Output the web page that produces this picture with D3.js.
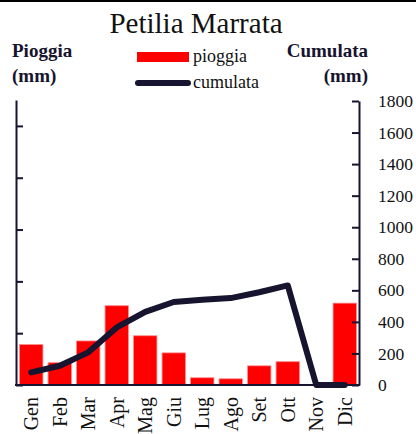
<!DOCTYPE html>
<html>
<head>
<meta charset="utf-8">
<script src="https://cdn.jsdelivr.net/npm/d3@7"></script>
<style>
  body { margin: 0; background: #fff; }
  svg { display: block; }
</style>
</head>
<body>
<div class="chart"></div>
<script>
let w = 416;
let h = 434;

// data
let mesi = ["Gen", "Feb", "Mar", "Apr", "Mag", "Giu", "Lug", "Ago", "Set", "Ott", "Nov", "Dic"];
let pioggia = [78, 43, 85, 153, 95, 62, 14, 12, 37, 45, 0, 158];
let cumulata = [80, 122, 207, 365, 463, 526, 540, 551, 588, 631, 0, 0];
let ticksDx = [0, 200, 400, 600, 800, 1000, 1200, 1400, 1600, 1800];
let ticksSx = [0, 100, 200, 300, 400, 500];

let ink = "#16142e";
let font = "'Liberation Serif', 'DejaVu Serif', serif";

let viz = d3.select(".chart")
  .append("svg")
    .attr("width", w)
    .attr("height", h)
    .style("font-family", font)
;

// top border
viz.append("rect")
  .attr("x", 0).attr("y", 0)
  .attr("width", w).attr("height", 2)
  .attr("fill", "#000");

let x = d3.scaleBand()
  .domain(mesi)
  .range([17, 359])
  .paddingInner(0.18)
  .paddingOuter(0.09);

let yL = d3.scaleLinear().domain([0, 550]).range([385, 100]);
let yR = d3.scaleLinear().domain([0, 1800]).range([385, 101]);

// bars
viz.append("g").attr("class", "bars")
  .selectAll("rect")
  .data(mesi)
  .join("rect")
    .attr("x", d => x(d))
    .attr("width", x.bandwidth())
    .attr("y", (d, i) => yL(pioggia[i]))
    .attr("height", (d, i) => yL(0) - yL(pioggia[i]))
    .attr("fill", "#ff0000")
    .attr("stroke", "#ff8a8a")
    .attr("stroke-width", (d, i) => pioggia[i] > 0 ? 0.8 : 0);

// cumulative line
let lineFunction = d3.line()
  .x((d, i) => x(mesi[i]) + x.bandwidth() / 2)
  .y(d => yR(d));

viz.append("path")
  .attr("d", lineFunction(cumulata))
  .attr("fill", "none")
  .attr("stroke", ink)
  .attr("stroke-width", 6)
  .attr("stroke-linejoin", "round")
  .attr("stroke-linecap", "round");

// left axis (no labels)
let axL = viz.append("g")
  .attr("transform", "translate(16,0)")
  .call(d3.axisLeft(yL).tickValues(ticksSx).tickSize(-7).tickSizeOuter(0).tickFormat(""));

// right axis
let axR = viz.append("g")
  .attr("transform", "translate(359,0)")
  .call(d3.axisRight(yR).tickValues(ticksDx).tickSize(-7).tickSizeOuter(0)
    .tickPadding(19).tickFormat(d3.format("d")));

// bottom axis
let axB = viz.append("g")
  .attr("transform", "translate(0,385)")
  .call(d3.axisBottom(x).tickSize(0).tickPadding(0));

axB.select(".domain").attr("d", "M15,0H360");
axB.selectAll("text")
  .attr("transform", "rotate(-90)")
  .attr("text-anchor", "end")
  .attr("x", -12)
  .attr("y", 0)
  .attr("dy", "0.35em")
  .attr("font-size", 20)
  .attr("font-family", font)
  .attr("fill", "#111");

[axL, axR, axB].forEach(a => {
  a.select(".domain").attr("stroke", ink).attr("stroke-width", 2);
  a.selectAll(".tick line").attr("stroke", ink).attr("stroke-width", 2);
});
axR.selectAll("text")
  .attr("text-anchor", "start")
  .attr("font-size", 17.5)
  .attr("font-family", font)
  .attr("fill", "#111");

// title
viz.append("text")
  .attr("x", 196)
  .attr("y", 33)
  .attr("text-anchor", "middle")
  .attr("font-size", 29)
  .attr("fill", "#111")
  .text("Petilia Marrata");

// axis titles
let titoli = viz.append("g")
  .attr("font-weight", "bold")
  .attr("font-size", 19)
  .attr("fill", ink);

titoli.append("text").attr("x", 12).attr("y", 57).text("Pioggia");
titoli.append("text").attr("x", 12).attr("y", 82).text("(mm)");
titoli.append("text").attr("x", 368).attr("y", 57).attr("text-anchor", "end").text("Cumulata");
titoli.append("text").attr("x", 368).attr("y", 82).attr("text-anchor", "end").text("(mm)");

// legend
let legenda = viz.append("g").attr("font-size", 18).attr("fill", "#111");

legenda.append("rect")
  .attr("x", 137).attr("y", 52)
  .attr("width", 52).attr("height", 10)
  .attr("fill", "#ff0000");
legenda.append("text").attr("x", 193).attr("y", 62).text("pioggia");

legenda.append("line")
  .attr("x1", 138).attr("x2", 188)
  .attr("y1", 83).attr("y2", 83)
  .attr("stroke", ink)
  .attr("stroke-width", 6)
  .attr("stroke-linecap", "round");
legenda.append("text").attr("x", 193).attr("y", 88).text("cumulata");
</script>
</body>
</html>
